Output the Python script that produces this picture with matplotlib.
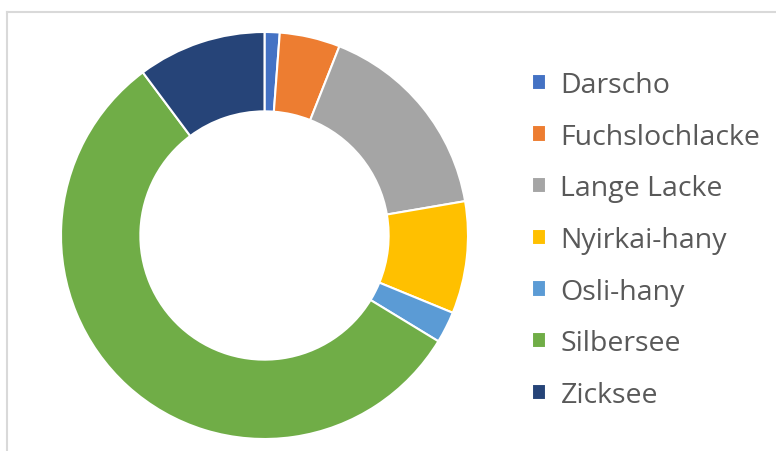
import matplotlib.pyplot as plt
from matplotlib.lines import Line2D

# share of each lake (percent)
lakes = ['Darscho', 'Fuchslochlacke', 'Lange Lacke', 'Nyirkai-hany',
         'Osli-hany', 'Silbersee', 'Zicksee']
shares = [1.2, 4.8, 16.3, 8.9, 2.5, 56.1, 10.2]
colors = ['#4472C4', '#ED7D31', '#A5A5A5', '#FFC000',
          '#5B9BD5', '#70AD47', '#264478']

W, H = 776, 452
fig = plt.figure(figsize=(W / 100, H / 100), dpi=100)

# chart frame (only top and left edges visible)
fig.add_artist(Line2D([7 / W, 7 / W], [0, 1 - 13 / H], color='#d9d9d9', lw=1.5))
fig.add_artist(Line2D([7 / W, 1], [1 - 13 / H, 1 - 13 / H], color='#d9d9d9', lw=1.5))

cx, cy, r = 264.5, 236.5, 203.5
ax = fig.add_axes([(cx - r) / W, (H - cy - r) / H, 2 * r / W, 2 * r / H])
wedges, _ = ax.pie(shares, colors=colors, startangle=90, counterclock=False,
                   radius=1, wedgeprops=dict(width=0.39, edgecolor='white', linewidth=1.5))
ax.set_xlim(-1, 1)
ax.set_ylim(-1, 1)
ax.set_aspect('equal')
ax.axis('off')

leg = fig.legend(wedges, lakes, loc='upper left', bbox_to_anchor=(532 / W, 1 - 72 / H),
                 frameon=False, handlelength=0.5, handleheight=0.5,
                 handletextpad=0.5, labelspacing=0.83, borderpad=0, borderaxespad=0,
                 prop={'family': 'Open Sans', 'size': 20.5})
for t in leg.get_texts():
    t.set_color('#595959')

fig.savefig('out.png', dpi=100)
